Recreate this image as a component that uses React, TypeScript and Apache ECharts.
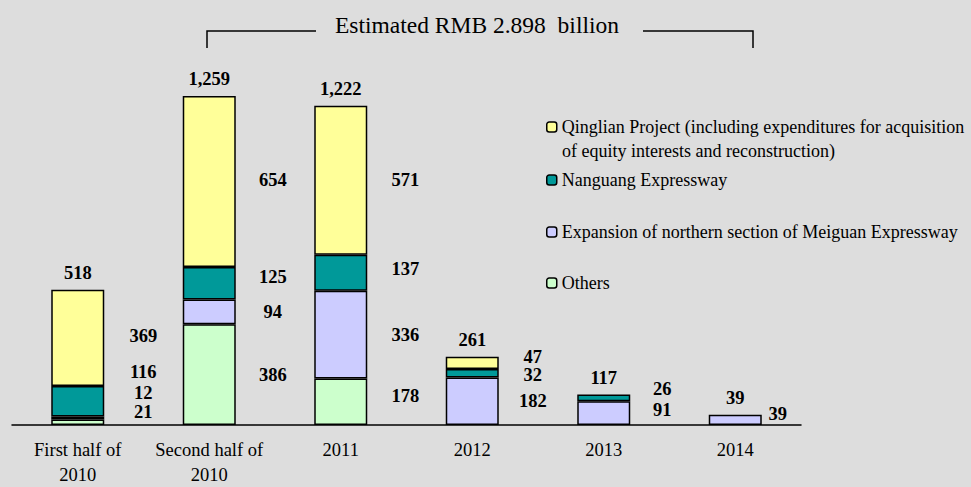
import React, { useEffect, useRef } from "react";
import * as echarts from "echarts";

const categories = [
  "First half of\n2010",
  "Second half of\n2010",
  "2011",
  "2012",
  "2013",
  "2014",
];
const others = [21, 386, 178, null, null, null];
const expansion = [12, 94, 336, 182, 91, 39];
const nanguang = [116, 125, 137, 32, 26, null];
const qinglian = [369, 654, 571, 47, null, null];

const seriesNames = [
  "Others",
  "Expansion of northern section of Meiguan Expressway",
  "Nanguang Expressway",
  "Qinglian Project (including expenditures for acquisition",
];
const qinglianSecondLine = "of equity interests and reconstruction)";
const titleText = "Estimated RMB 2.898  billion";

const FONT = "'Liberation Serif', 'Times New Roman', serif";

export default function App() {
  const ref = useRef<HTMLDivElement>(null);
  useEffect(() => {
    if (!ref.current) return;
    document.body.style.margin = "0";
    const chart = echarts.init(ref.current, null, {
      renderer: "svg",
      width: 971,
      height: 487,
    });
    const stacks = [others, expansion, nanguang, qinglian];
    const colors = ["#CCFFCC", "#CCCCFF", "#009999", "#FFFF99"];
    const totals = categories.map((_, i) =>
      stacks.reduce((s, arr) => s + (arr[i] ?? 0), 0)
    );
    // label layout tweaks (horizontal offset per category, vertical per segment)
    const labelDx = [65.5, 63.5, 64.5, 60.5, 58.5, 42.5];
    const labelDy = [
      [-10, 0, -6, 0, 0, 0],
      [-25, 0, 0, 0, -3, -6],
      [-29, -6, -4, 2, -9, 0],
      [-2, -1, 0, -6, 0, 0],
    ];
    const legendTops = [274, 223, 171, 118];

    const barSeries = stacks.map((arr, s) => ({
      name: seriesNames[s],
      type: "bar",
      stack: "total",
      barWidth: 53,
      itemStyle: { color: colors[s], borderColor: "#000", borderWidth: 1.5 },
      label: {
        show: true,
        position: "inside",
        color: "#000",
        fontWeight: "bold",
        fontSize: 18.5,
        lineHeight: 15,
        fontFamily: FONT,
      },
      data: arr.map((v, i) =>
        v == null
          ? "-"
          : { value: v, label: { offset: [labelDx[i], labelDy[s][i]] } }
      ),
    }));

    chart.setOption({
      animation: false,
      backgroundColor: "#dddddd",
      grid: { left: 12, right: 170, top: 33, bottom: 55 },
      xAxis: {
        type: "category",
        data: categories,
        axisLine: { lineStyle: { color: "#000", width: 1.5 } },
        axisTick: { inside: true, length: 5, lineStyle: { color: "#000", width: 1.5 } },
        axisLabel: {
          interval: 0,
          color: "#000",
          fontSize: 18.5,
          fontFamily: FONT,
          lineHeight: 25,
          margin: 12,
        },
      },
      yAxis: { type: "value", min: 0, max: 1500, show: false },
      legend: [3, 2, 1, 0].map((s) => ({
        data: [seriesNames[s]],
        left: 546,
        top: legendTops[s],
        padding: 0,
        itemWidth: 10,
        itemHeight: 10,
        itemStyle: { borderColor: "#000", borderWidth: 1.5 },
        textStyle: { color: "#000", fontSize: 18, fontFamily: FONT },
        selectedMode: false,
      })),
      series: [
        ...barSeries,
        {
          name: "Total",
          type: "scatter",
          symbolSize: 0,
          itemStyle: { opacity: 1 },
          data: totals,
          label: {
            show: true,
            position: "top",
            distance: 7,
            color: "#000",
            fontWeight: "bold",
            fontSize: 18.5,
            fontFamily: FONT,
            formatter: (p: any) => Number(p.value).toLocaleString("en-US"),
          },
        },
      ],
      graphic: [
        {
          type: "text",
          x: 562,
          y: 151,
          style: {
            text: qinglianSecondLine,
            fontSize: 18,
            fontFamily: FONT,
            fill: "#000",
            align: "left",
            verticalAlign: "middle",
          },
        },
        {
          type: "text",
          x: 477,
          y: 25,
          style: {
            text: titleText,
            fontSize: 23.5,
            fontFamily: FONT,
            fill: "#000",
            align: "center",
            verticalAlign: "middle",
          },
        },
        {
          type: "polyline",
          shape: { points: [[207, 48], [207, 31], [316, 31]] },
          style: { stroke: "#000", lineWidth: 1.5, fill: "none" },
        },
        {
          type: "polyline",
          shape: { points: [[643, 31], [753, 31], [753, 48]] },
          style: { stroke: "#000", lineWidth: 1.5, fill: "none" },
        },
      ],
    });
    return () => chart.dispose();
  }, []);
  return (
    <div
      ref={ref}
      style={{ position: "absolute", left: 0, top: 0, width: 971, height: 487 }}
    />
  );
}
